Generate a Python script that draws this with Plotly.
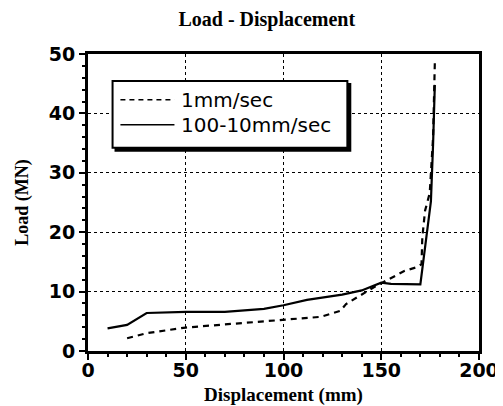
import plotly.graph_objects as go

# Data
fast_x = [10, 20, 30, 50, 70, 90, 100, 112, 130, 140, 150, 155, 170, 173.2, 175.4, 176.5, 177.4]
fast_y = [3.8, 4.4, 6.4, 6.6, 6.6, 7.1, 7.7, 8.6, 9.5, 10.2, 11.5, 11.3, 11.2, 19.1, 25.2, 34.7, 44.8]

slow_x = [20, 30, 50, 75, 100, 119, 129, 132, 146, 151, 162, 168, 170.6, 171, 172.4, 174.8, 176.5, 177.4]
slow_y = [2.15, 3.0, 3.95, 4.6, 5.2, 5.75, 6.75, 7.9, 10.7, 11.6, 13.5, 14.1, 14.6, 19.1, 23.6, 26.6, 35.9, 48.5]

x_ticks = [0, 50, 100, 150, 200]
y_ticks = [0, 10, 20, 30, 40, 50]
series_names = ["1mm/sec", "100-10mm/sec"]

W, H = 503, 406
L, R, T, B = 77, 28, 46, 62

fig = go.Figure()
fig.add_trace(go.Scatter(x=slow_x, y=slow_y, mode="lines", name=series_names[0],
                         line=dict(color="black", width=2.2, dash="6px,5px")))
fig.add_trace(go.Scatter(x=fast_x, y=fast_y, mode="lines", name=series_names[1],
                         line=dict(color="black", width=2.2)))

def px2x(px):
    return (px - L) / (W - L - R) * 200

def py2y(py):
    return (H - B - py) / (H - B - T) * 50

shapes = []
# legend shadow and box
shapes.append(dict(type="rect", xref="x", yref="y",
                   x0=px2x(104), x1=px2x(345), y0=py2y(144), y1=py2y(75),
                   fillcolor="black", line=dict(width=0), layer="above"))
shapes.append(dict(type="rect", xref="x", yref="y",
                   x0=px2x(102), x1=px2x(341), y0=py2y(140), y1=py2y(73),
                   fillcolor="white", line=dict(color="black", width=2), layer="above"))
shapes.append(dict(type="line", xref="x", yref="y",
                   x0=px2x(110), x1=px2x(165), y0=py2y(92), y1=py2y(92),
                   line=dict(color="black", width=1.5, dash="5px,4px"), layer="above"))
shapes.append(dict(type="line", xref="x", yref="y",
                   x0=px2x(110), x1=px2x(165), y0=py2y(117), y1=py2y(117),
                   line=dict(color="black", width=1.5), layer="above"))

annotations = []
for name, py in zip(series_names, [92, 117]):
    annotations.append(dict(x=px2x(170), y=py2y(py), xref="x", yref="y", text=name,
                            showarrow=False, xanchor="left", yanchor="middle",
                            font=dict(family="DejaVu Sans", size=20, color="black")))

fig.update_layout(
    width=W, height=H,
    margin=dict(l=L, r=R, t=T, b=B),
    paper_bgcolor="white", plot_bgcolor="white",
    showlegend=False,
    title=dict(text="<b>Load - Displacement</b>", x=(259 - L) / (W - L - R), xref="paper",
               xanchor="center", y=1 - 4 / H, yref="container", yanchor="top",
               font=dict(family="Liberation Serif", size=20, color="black")),
    shapes=shapes, annotations=annotations,
)
fig.update_xaxes(range=[0, 200], tickvals=x_ticks, showline=True, linewidth=3, linecolor="black",
                 mirror=True, ticks="outside", ticklen=6, tickwidth=2, tickcolor="black",
                 minor=dict(dtick=10, ticks="outside", ticklen=3, tickwidth=2, tickcolor="black", showgrid=False),
                 showgrid=True, gridcolor="black", gridwidth=1, griddash="dot", zeroline=False,
                 ticklabelstandoff=-6,
                 tickfont=dict(family="DejaVu Sans", size=19, color="black", weight="bold"),
                 title=dict(text="<b>Displacement (mm)</b>", standoff=8,
                            font=dict(family="Liberation Serif", size=19, color="black")))
fig.update_yaxes(range=[0, 50], tickvals=y_ticks, showline=True, linewidth=3, linecolor="black",
                 mirror=True, ticks="outside", ticklen=6, tickwidth=2, tickcolor="black",
                 minor=dict(dtick=2, ticks="outside", ticklen=3, tickwidth=2, tickcolor="black", showgrid=False),
                 showgrid=True, gridcolor="black", gridwidth=1, griddash="dot", zeroline=False,
                 tickfont=dict(family="DejaVu Sans", size=19, color="black", weight="bold"),
                 title=dict(text="<b>Load (MN)</b>", standoff=16,
                            font=dict(family="Liberation Serif", size=18, color="black")))

fig.write_html("out.html")
